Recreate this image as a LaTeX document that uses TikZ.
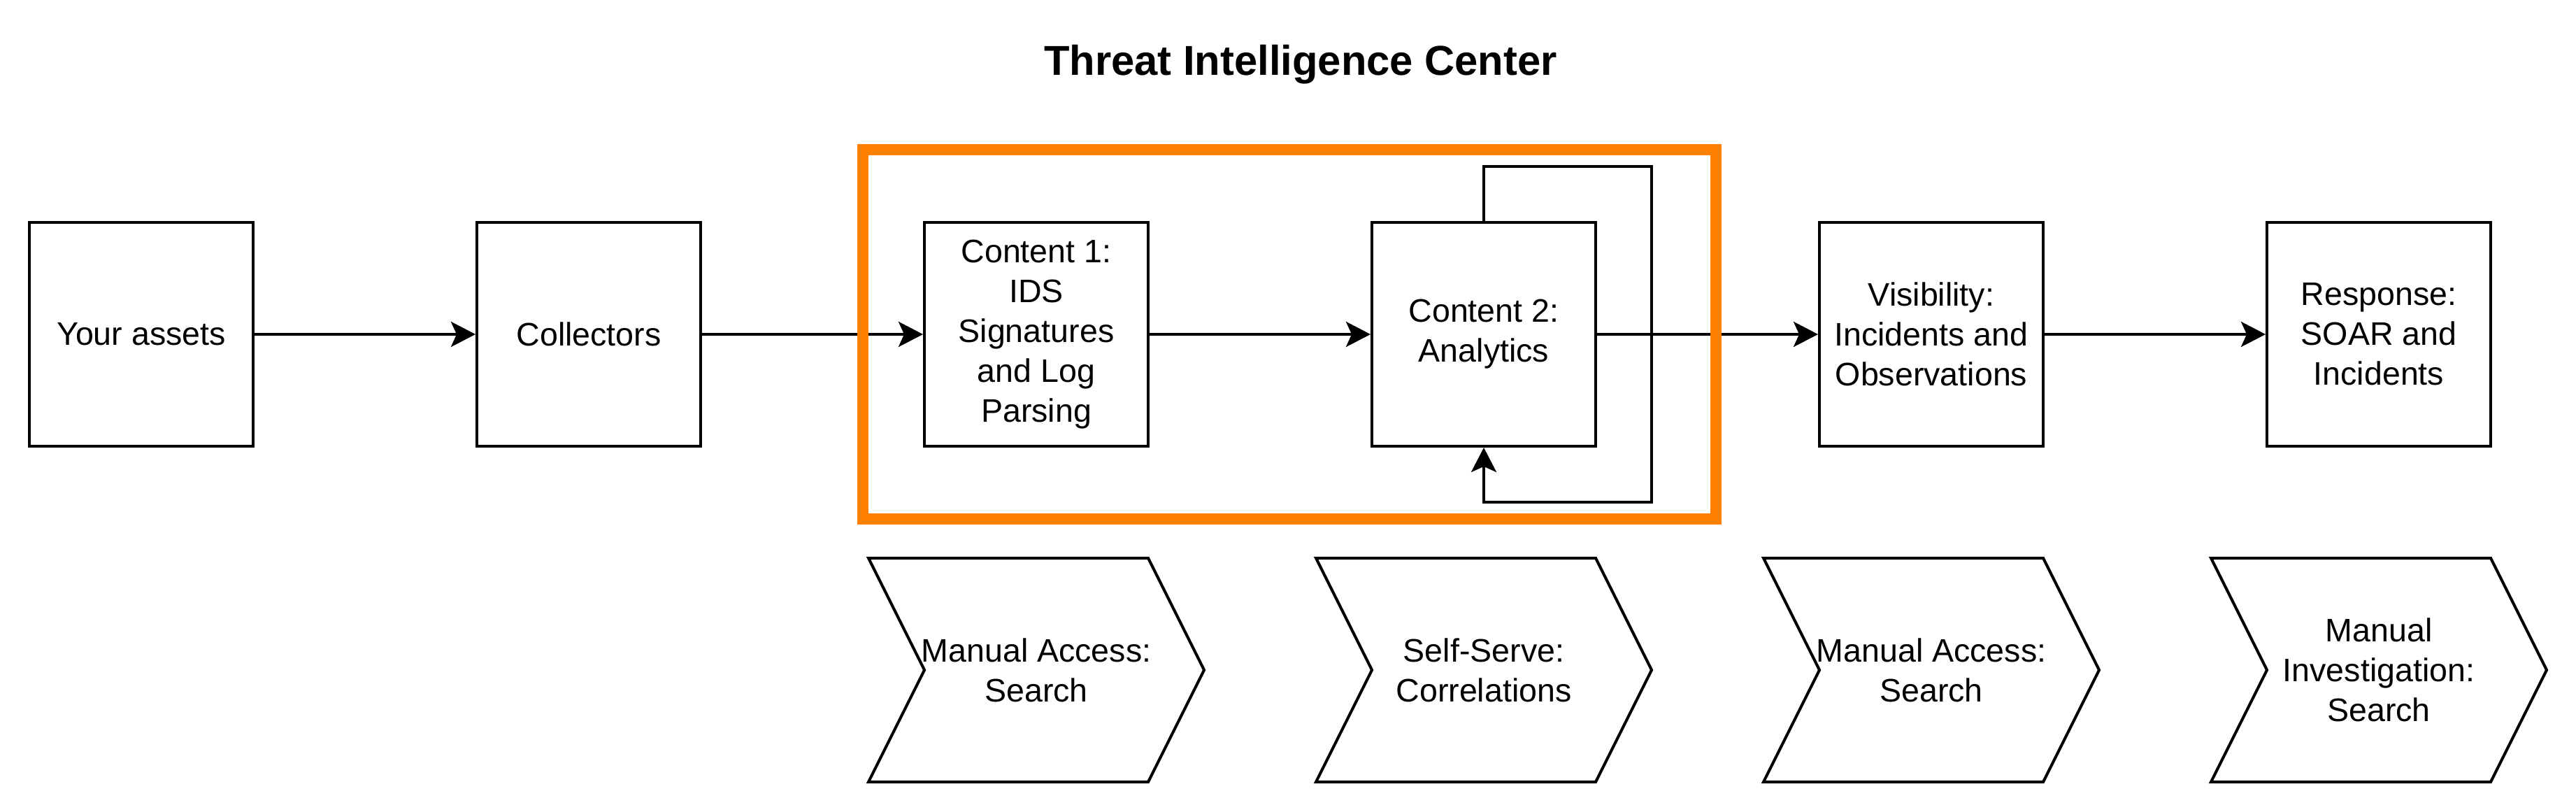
\documentclass[tikz,border=0pt]{standalone}
\usepackage{fontspec}
\setmainfont{Liberation Sans}
\usetikzlibrary{positioning,arrows.meta}
\definecolor{ticorange}{HTML}{FF8000}
\tikzset{
  stagebox/.style={draw, line width=0.04cm, minimum width=3.2cm, minimum height=3.2cm,
    inner sep=0pt, align=center, font=\fontsize{13.25}{16.2}\selectfont},
  accessstep/.style={minimum width=3.2cm, minimum height=3.2cm, inner sep=0pt,
    outer sep=0pt, align=center, font=\fontsize{13.25}{16.2}\selectfont},
  flow/.style={line width=0.04cm, -{Stealth[length=0.35cm,width=0.36cm,inset=0.08cm]}},
}

\begin{document}
\begin{tikzpicture}
  \useasboundingbox (0,0) rectangle (36.84,11.60);

  \node [anchor=base, font=\fontsize{17}{20}\selectfont\bfseries] (title) at (18.60,10.52) {Threat Intelligence Center};

  \node [stagebox] (assets) at (2.02,6.82) {Your assets};
  \node [stagebox, right=3.16cm of assets] (collectors) {Collectors};
  \node [stagebox, right=3.16cm of collectors] (content1) {Content 1:\\IDS\\Signatures\\and Log\\Parsing};
  \node [stagebox, right=3.16cm of content1] (content2) {Content 2:\\Analytics};
  \node [stagebox, right=3.16cm of content2] (visibility) {Visibility:\\Incidents and\\Observations};
  \node [stagebox, right=3.16cm of visibility] (response) {Response:\\SOAR and\\Incidents};

  \node [accessstep, below=1.58cm of content1] (search1) {Manual Access:\\Search};
  \node [accessstep, below=1.58cm of content2] (selfserve) {Self-Serve:\\Correlations};
  \node [accessstep, below=1.58cm of visibility] (search2) {Manual Access:\\Search};
  \node [accessstep, below=1.58cm of response] (investigate) {Manual\\Investigation:\\Search};

  \foreach \n in {search1,selfserve,search2,investigate}
    \draw [line width=0.04cm] ([shift={(-2.4,1.6)}]\n.center) -- ([shift={(1.6,1.6)}]\n.center)
      -- ([shift={(2.4,0)}]\n.center) -- ([shift={(1.6,-1.6)}]\n.center)
      -- ([shift={(-2.4,-1.6)}]\n.center) -- ([shift={(-1.6,0)}]\n.center) -- cycle;

  \draw [flow] (assets) -- (collectors);
  \draw [flow] (collectors) -- (content1);
  \draw [flow] (content1) -- (content2);
  \draw [flow] (content2) -- (visibility);
  \draw [flow] (visibility) -- (response);
  % feedback loop
  \draw [flow] (content2.north) -- ++(0,0.78) -- ++(2.4,0) -- ++(0,-4.8) -| (content2.south);

  \draw [ticorange, line width=0.16cm] (12.34,4.18) rectangle (24.54,9.46);
\end{tikzpicture}
\end{document}
